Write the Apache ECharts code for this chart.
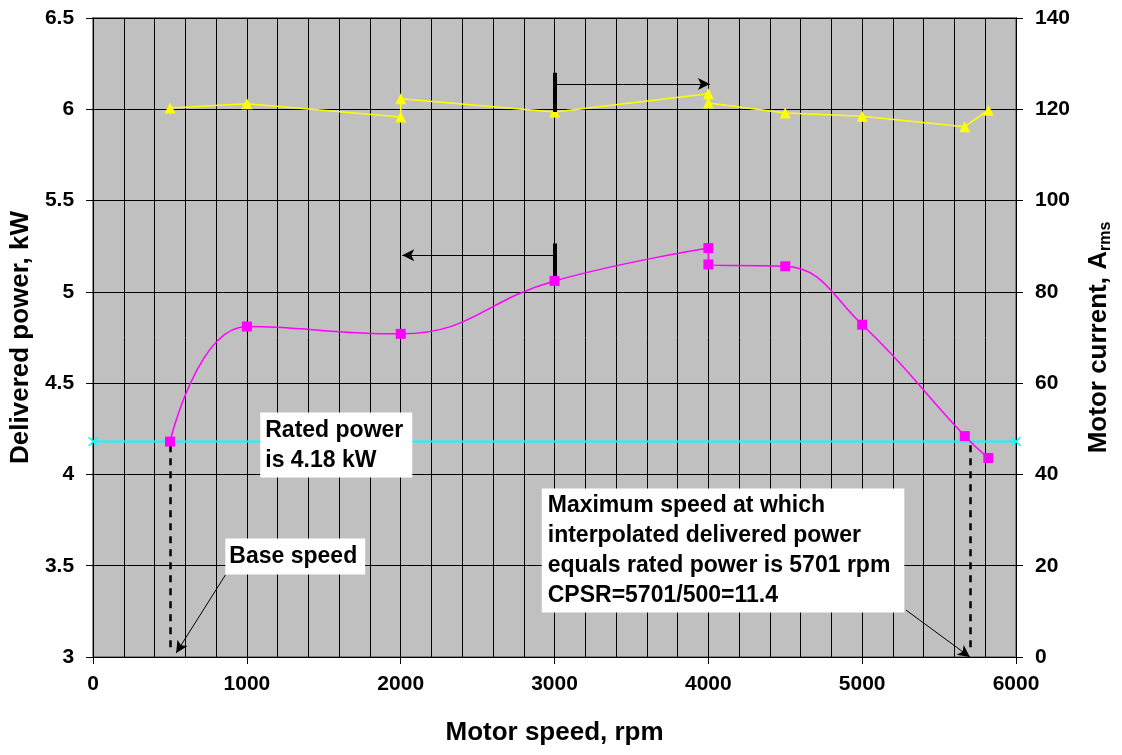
<!DOCTYPE html>
<html>
<head>
<meta charset="utf-8">
<script src="https://cdn.jsdelivr.net/npm/echarts@6/dist/echarts.min.js"></script>
<style>
html, body { margin: 0; padding: 0; background: #fff; }
#chart { width: 1122px; height: 755px; }
</style>
</head>
<body>
<div id="chart"></div>
<script>
// delivered power (left axis, kW)
var powerSpeed = [500, 1000, 2000, 3000, 4000, 4000, 4500, 5000, 5667, 5820];
var powerKW = [4.18, 4.81, 4.77, 5.06, 5.24, 5.15, 5.14, 4.82, 4.21, 4.09];
// motor current (right axis, Arms)
var currentSpeed = [500, 1000, 2000, 2000, 3000, 4000, 4000, 4500, 5000, 5667, 5820];
var currentA = [120.3, 121.2, 118.3, 122.3, 119.4, 123.4, 121.4, 119.2, 118.5, 116.2, 119.8];
// rated power line
var ratedSpeed = [0, 6000];
var ratedKW = [4.18, 4.18];
var baseSpeed = 500;
var maxSpeed = 5701;

var font = 'Liberation Sans, Arial, sans-serif';

var myChart = echarts.init(document.getElementById('chart'));

function pairs(xs, ys) {
	var out = [];
	for (var i = 0; i < xs.length; i++) out.push([xs[i], ys[i]]);
	return out;
}

var dashed = { color: '#000', width: 2.5, type: [7, 6] };

var option = {
	animation: false,
	grid: {
		left: 93, right: 101, top: 18, bottom: 98,
		show: true, backgroundColor: '#c0c0c0', borderColor: '#808080', borderWidth: 2
	},
	xAxis: {
		type: 'value', min: 0, max: 6000, interval: 1000,
		name: 'Motor speed, rpm', nameLocation: 'middle', nameGap: 63,
		nameTextStyle: { fontFamily: font, fontWeight: 'bold', fontSize: 26, color: '#000' },
		axisLine: { lineStyle: { color: '#000', width: 1 } },
		axisTick: { show: true, length: 7, lineStyle: { color: '#000' } },
		axisLabel: {
			margin: 17, fontFamily: font, fontWeight: 'bold', fontSize: 21, color: '#000',
			formatter: function(v) { return String(v); }
		},
		splitLine: { show: true, lineStyle: { color: '#000', width: 1 } },
		minorTick: { show: false, splitNumber: 5 },
		minorSplitLine: { show: true, lineStyle: { color: '#000', width: 1 } }
	},
	yAxis: [{
		type: 'value', min: 3, max: 6.5, interval: 0.5,
		name: 'Delivered power, kW', nameLocation: 'middle', nameGap: 49, nameRotate: 90,
		nameTextStyle: { fontFamily: font, fontWeight: 'bold', fontSize: 26, color: '#000' },
		axisLine: { show: true, lineStyle: { color: '#000', width: 1 } },
		axisTick: { show: true, length: 7, lineStyle: { color: '#000' } },
		axisLabel: { margin: 19, fontFamily: font, fontWeight: 'bold', fontSize: 21, color: '#000' },
		splitLine: { show: true, lineStyle: { color: '#000', width: 1 } }
	}, {
		type: 'value', min: 0, max: 140, interval: 20, position: 'right',
		name: '{a|Motor current, A}{s|rms}', nameLocation: 'middle', nameGap: 68, nameRotate: 90,
		nameTextStyle: {
			fontFamily: font, fontWeight: 'bold', fontSize: 26, color: '#000',
			rich: {
				a: { fontFamily: font, fontWeight: 'bold', fontSize: 26, color: '#000', lineHeight: 30 },
				s: { fontFamily: font, fontWeight: 'bold', fontSize: 16, color: '#000', lineHeight: 30, verticalAlign: 'bottom', padding: [8, 0, 0, 0] }
			}
		},
		axisLine: { show: true, lineStyle: { color: '#000', width: 1 } },
		axisTick: { show: true, length: 7, lineStyle: { color: '#000' } },
		axisLabel: { margin: 19, fontFamily: font, fontWeight: 'bold', fontSize: 21, color: '#000' },
		splitLine: { show: false }
	}],
	series: [{
		name: 'Rated power',
		type: 'line',
		yAxisIndex: 0,
		data: pairs(ratedSpeed, ratedKW),
		symbol: 'path://M0,0L10,10M10,0L0,10',
		symbolSize: 9,
		lineStyle: { color: '#00ffff', width: 2 },
		itemStyle: { color: '#00ffff', borderColor: '#00ffff', borderWidth: 1.5 },
		z: 2
	}, {
		name: 'Guides',
		type: 'line',
		yAxisIndex: 0,
		data: [],
		z: 3,
		markLine: {
			silent: true, animation: false,
			symbol: ['none', 'none'],
			label: { show: false },
			lineStyle: dashed,
			data: [
				[{ coord: [baseSpeed, 4.16], lineStyle: dashed }, { coord: [baseSpeed, 3.02] }],
				[{ coord: [maxSpeed, 4.16], lineStyle: dashed }, { coord: [maxSpeed, 3.02] }]
			]
		}
	}, {
		name: 'Bars',
		type: 'line',
		yAxisIndex: 0,
		data: [],
		z: 6,
		markLine: {
			silent: true, animation: false,
			symbol: ['none', 'none'],
			label: { show: false },
			lineStyle: { color: '#000', width: 4, type: 'solid' },
			data: [
				[{ coord: [3000, 6.2] }, { coord: [3000, 5.985] }],
				[{ coord: [3000, 5.265] }, { coord: [3000, 5.06] }]
			]
		}
	}, {
		name: 'Arrows',
		type: 'line',
		yAxisIndex: 0,
		data: [],
		z: 6,
		markLine: {
			silent: true, animation: false,
			symbol: ['none', 'arrow'],
			symbolSize: [9, 12],
			label: { show: false },
			lineStyle: { color: '#000', width: 1, type: 'solid' },
			data: [
				[{ coord: [3000, 6.138] }, { coord: [4010, 6.138] }],
				[{ coord: [3000, 5.2] }, { coord: [2010, 5.2] }],
				[{ coord: [860, 3.449] }, { coord: [540, 3.022] }],
				[{ coord: [5285, 3.257] }, { coord: [5700, 3.0] }]
			]
		}
	}, {
		name: 'Motor current',
		type: 'line',
		yAxisIndex: 1,
		data: pairs(currentSpeed, currentA),
		symbol: 'triangle',
		symbolSize: 11,
		lineStyle: { color: '#ffff00', width: 1.5 },
		itemStyle: { color: '#ffff00' },
		z: 4
	}, {
		name: 'Delivered power',
		type: 'line',
		yAxisIndex: 0,
		data: pairs(powerSpeed, powerKW),
		smooth: 0.45,
		symbol: 'rect',
		symbolSize: 10,
		lineStyle: { color: '#ff00ff', width: 1.5 },
		itemStyle: { color: '#ff00ff' },
		z: 5
	}, {
		name: 'Notes',
		type: 'line',
		yAxisIndex: 0,
		data: [],
		z: 10,
		markPoint: {
			silent: true, animation: false,
			symbol: 'rect', symbolSize: 1,
			itemStyle: { color: 'rgba(0,0,0,0)' },
			label: {
				show: true, position: [0, 0],
				fontFamily: font, fontWeight: 'bold', fontSize: 23, color: '#000',
				lineHeight: 30, backgroundColor: '#fff', padding: [3, 6, 2, 5]
			},
			data: [
				{ coord: [1090, 4.336], value: 0, label: { formatter: 'Rated power\nis 4.18 kW', padding: [3, 9, 2, 5] } },
				{ coord: [863, 3.646], value: 0, label: { formatter: 'Base speed', padding: [3, 8, 3, 4] } },
				{ coord: [2920, 3.92], value: 0, label: { formatter: 'Maximum speed at which\ninterpolated delivered power\nequals rated power is 5701 rpm\nCPSR=5701/500=11.4', padding: [2, 14, 2, 6] } }
			]
		}
	}]
};

myChart.setOption(option);
</script>
</body>
</html>
